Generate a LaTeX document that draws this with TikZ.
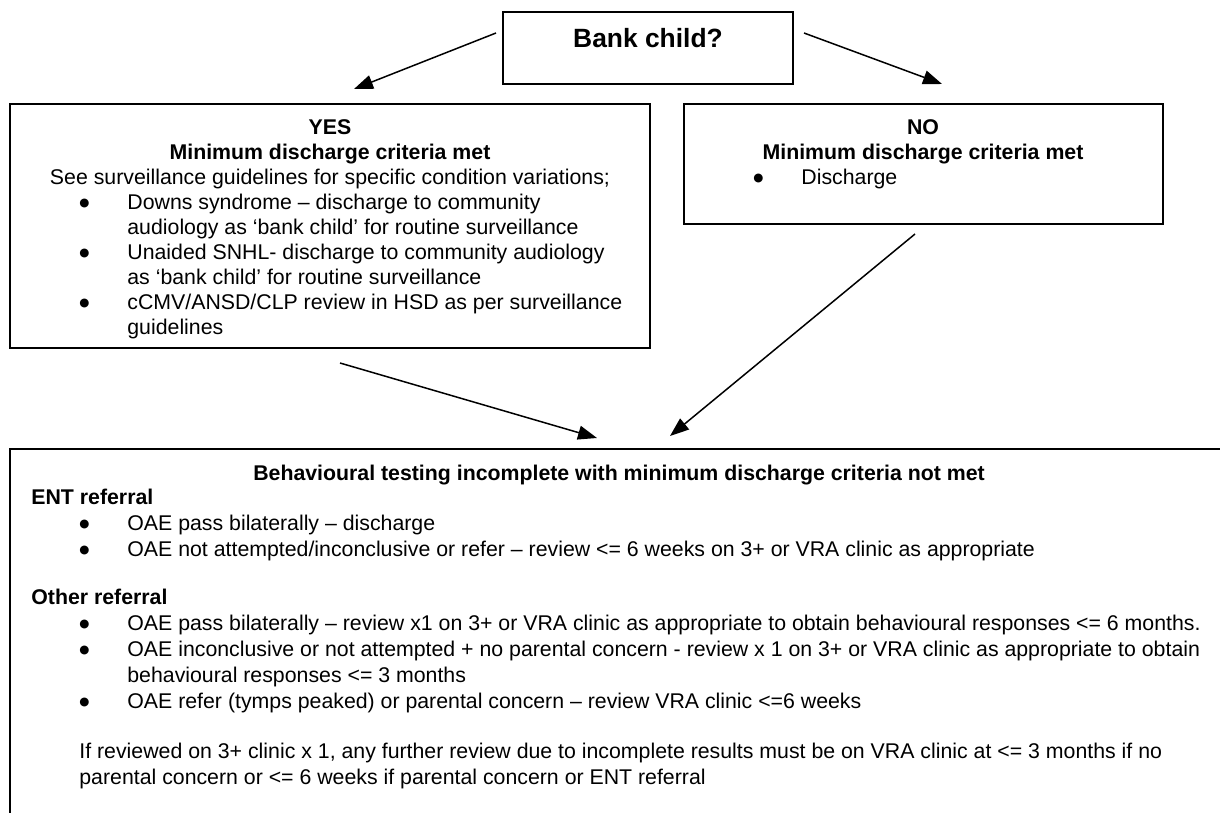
\documentclass[tikz,border=0pt]{standalone}
\usepackage{fontspec}
\setmainfont{Liberation Sans}
\newfontfamily\bulfont{DejaVu Sans}
\usetikzlibrary{arrows.meta}

% Bullet and hanging indent for the list lines
\newcommand{\bulmark}{\makebox[24pt][l]{\raisebox{1.6pt}{\bulfont\fontsize{5.8}{6}\selectfont ●}}}
\newcommand{\bulgap}{\hspace*{24pt}}

\begin{document}
\begin{tikzpicture}[x=0.5pt,y=-0.5pt]

  % Styles for boxes, texts and arrows
  \tikzset{box/.style={draw, line width=0.9pt, inner sep=0pt},
           txt/.style={inner sep=0pt, font=\fontsize{10.65}{12.5}\selectfont},
           txtlow/.style={inner sep=0pt, font=\fontsize{10.65}{13}\selectfont},
           arr/.style={line width=0.75pt, -{Triangle[length=9.5pt,width=7pt]}}}

  \useasboundingbox (0,0) rectangle (1220,813);
  \clip (0,0) rectangle (1220,813);

  % Question box
  \node[box, minimum width=145pt, minimum height=36pt] (bank) at (648,48) {};
  \node[anchor=base, inner sep=0pt, font=\fontsize{13.2}{15}\selectfont\bfseries] (banktext) at (648,48) {Bank child?};

  % YES box
  \node[box, minimum width=320pt, minimum height=122pt] (yes) at (330,226) {};
  \node[txt, anchor=north, align=center] (yeshead) at (330,116.5)
    {\strut\textbf{YES}\\ \textbf{Minimum discharge criteria met}\\
     See surveillance guidelines for specific condition variations;};
  \node[txt, anchor=north west, align=left] (yeslist) at (79,191.5)
    {\strut\bulmark Downs syndrome – discharge to community\\
     \bulgap audiology as ‘bank child’ for routine surveillance\\
     \bulmark Unaided SNHL- discharge to community audiology\\
     \bulgap as ‘bank child’ for routine surveillance\\
     \bulmark cCMV/ANSD/CLP review in HSD as per surveillance\\
     \bulgap guidelines};

  % NO box
  \node[box, minimum width=239.5pt, minimum height=60pt] (no) at (923.5,164) {};
  \node[txt, anchor=north, align=center] (nohead) at (923,116.5)
    {\strut\textbf{NO}\\ \textbf{Minimum discharge criteria met}};
  \node[txt, anchor=north west, align=left] (nolist) at (753,166.5)
    {\strut\bulmark Discharge};

  % Bottom box (runs past the right and lower edges)
  \node[box, minimum width=615pt, minimum height=195.5pt] (incomplete) at (625,644.5) {};
  \node[txt, anchor=base, font=\fontsize{10.65}{13}\selectfont\bfseries] (inctitle) at (619,480)
    {Behavioural testing incomplete with minimum discharge criteria not met};
  \node[txtlow, anchor=north west, align=left] (inclist) at (31,485.8)
    {\strut\textbf{ENT referral}\\
     \bulgap\bulmark OAE pass bilaterally – discharge\\
     \bulgap\bulmark OAE not attempted/inconclusive or refer – review <= 6 weeks on 3+ or VRA clinic as appropriate\\[11pt]
     \textbf{Other referral}\\
     \bulgap\bulmark OAE pass bilaterally – review x1 on 3+ or VRA clinic as appropriate to obtain behavioural responses <= 6 months.\\
     \bulgap\bulmark OAE inconclusive or not attempted + no parental concern - review x 1 on 3+ or VRA clinic as appropriate to obtain\\
     \bulgap\bulgap behavioural responses <= 3 months\\
     \bulgap\bulmark OAE refer (tymps peaked) or parental concern – review VRA clinic <=6 weeks\\[12pt]
     \bulgap If reviewed on 3+ clinic x 1, any further review due to incomplete results must be on VRA clinic at <= 3 months if no\\
     \bulgap parental concern or <= 6 weeks if parental concern or ENT referral};

  % Arrow ends
  \coordinate (s1) at (496,33);  \coordinate (e1) at (354,89);
  \coordinate (s2) at (804,33);  \coordinate (e2) at (942,84);
  \coordinate (s3) at (340,363); \coordinate (e3) at (597,438);
  \coordinate (s4) at (915,234); \coordinate (e4) at (670,436);

  \foreach \i in {1,...,4} {
    \draw[arr] (s\i) -- (e\i);
  }
\end{tikzpicture}
\end{document}
